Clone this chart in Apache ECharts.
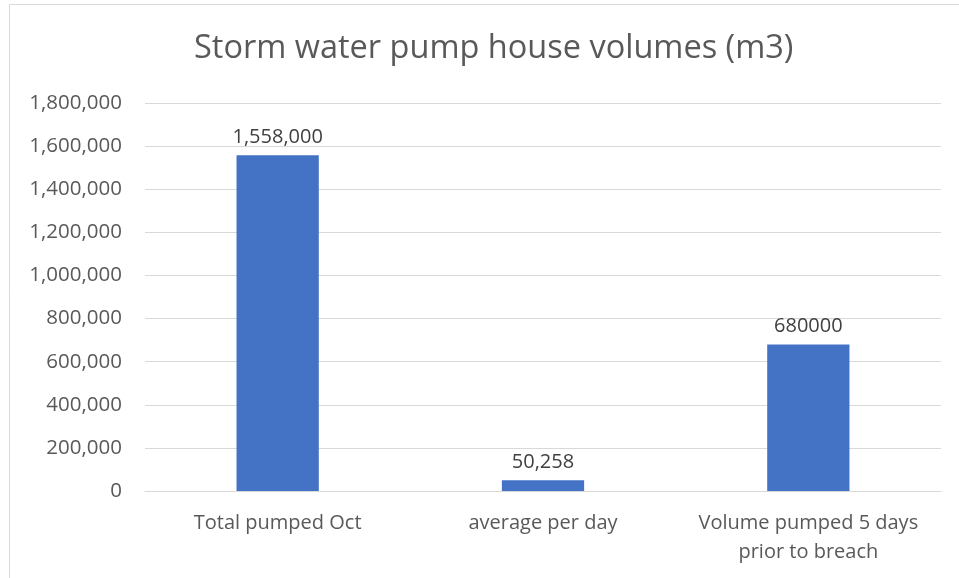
<!DOCTYPE html>
<html>
<head>
<meta charset="utf-8">
<script src="https://cdn.jsdelivr.net/npm/echarts@6/dist/echarts.min.js"></script>
<style>
  html, body { margin: 0; padding: 0; background: #fff; }
  #chart { width: 959px; height: 578px; }
</style>
</head>
<body>
<div id="chart"></div>
<script>
const categories = ['Total pumped Oct', 'average per day', 'Volume pumped 5 days\nprior to breach']
const volumes = [1558000, 50258, 680000]
const valueLabels = ['1,558,000', '50,258', '680000']

const chart = echarts.init(document.getElementById('chart'))
const font = 'Open Sans'

chart.setOption({
  animation: false,
  title: {
    text: 'Storm water pump house volumes (m3)',
    left: 189,
    top: 27,
    textStyle: { fontFamily: font, fontSize: 32.5, fontWeight: 'normal', color: '#595959' }
  },
  graphic: [{
    type: 'rect',
    shape: { x: 9.5, y: 4.5, width: 960, height: 600 },
    style: { fill: 'none', stroke: '#d9d9d9', lineWidth: 1 }
  }],
  grid: { left: 145, right: 18, top: 103, bottom: 87 },
  xAxis: {
    type: 'category',
    data: categories,
    axisTick: { show: false },
    axisLine: { lineStyle: { color: '#d9d9d9' } },
    axisLabel: { interval: 0, fontFamily: font, fontSize: 20, color: '#595959', margin: 18, lineHeight: 29 }
  },
  yAxis: {
    type: 'value',
    min: 0,
    max: 1800000,
    interval: 200000,
    axisLabel: {
      fontFamily: font, fontSize: 20.5, color: '#595959', margin: 23,
      formatter: v => v.toLocaleString('en-US')
    },
    splitLine: { lineStyle: { color: '#d9d9d9' } }
  },
  series: [{
    type: 'bar',
    data: volumes,
    barWidth: '31%',
    itemStyle: { color: '#4472C4' },
    label: {
      show: true,
      position: 'top',
      distance: 8,
      fontFamily: font,
      fontSize: 20,
      color: '#404040',
      formatter: p => valueLabels[p.dataIndex]
    }
  }]
})

window.addEventListener('resize', () => chart.resize())
</script>
</body>
</html>
